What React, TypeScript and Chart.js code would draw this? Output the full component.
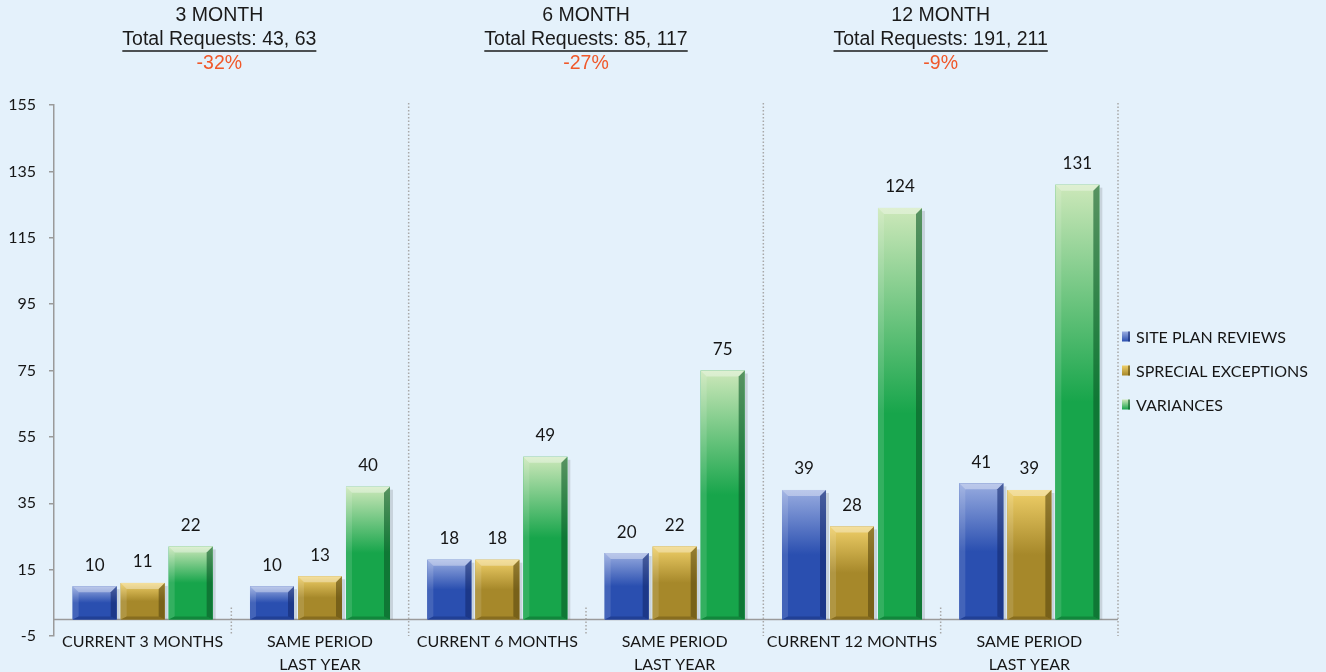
import React, { useEffect, useRef } from "react";
import { Chart, registerables } from "chart.js";

Chart.register(...registerables);

const categories: string[][] = [
  ["CURRENT 3 MONTHS"],
  ["SAME PERIOD", "LAST YEAR"],
  ["CURRENT 6 MONTHS"],
  ["SAME PERIOD", "LAST YEAR"],
  ["CURRENT 12 MONTHS"],
  ["SAME PERIOD", "LAST YEAR"],
];
const seriesNames = ["SITE PLAN REVIEWS", "SPRECIAL EXCEPTIONS", "VARIANCES"];
const sitePlanReviews = [10, 10, 18, 20, 39, 41];
const specialExceptions = [11, 13, 18, 22, 28, 39];
const variances = [22, 40, 49, 75, 124, 131];
const periodTitles = ["3 MONTH", "6 MONTH", "12 MONTH"];
const periodTotals = ["Total Requests: 43, 63", "Total Requests: 85, 117", "Total Requests: 191, 211"];
const periodChanges = ["-32%", "-27%", "-9%"];
const yMin = -5;
const yMax = 155;
const yStep = 20;

const BG = "#e4f1fb";
const palettes = [
  { light: "#98ace0", base: "#2a4fb0", dark: "#142a70" },
  { light: "#efcf68", base: "#a6882a", dark: "#5a470f" },
  { light: "#cde8ba", base: "#17a54b", dark: "#0a5a26" },
];

const W = 1326;
const H = 672;

const decorPlugin = {
  id: "decor",
  beforeDraw(chart: any) {
    const ctx = chart.ctx;
    ctx.save();
    ctx.fillStyle = BG;
    ctx.fillRect(0, 0, chart.width, chart.height);
    ctx.restore();
  },
  beforeDatasetsDraw(chart: any) {
    const { ctx, chartArea, scales } = chart;
    const x = scales.x;
    const y = scales.y;
    const zeroY = y.getPixelForValue(0);
    const catW = x.getPixelForValue(1) - x.getPixelForValue(0);
    ctx.save();
    ctx.strokeStyle = "#9a9a9a";
    ctx.lineWidth = 1.5;
    ctx.beginPath();
    ctx.moveTo(chartArea.left, zeroY);
    ctx.lineTo(chartArea.right, zeroY);
    ctx.stroke();
    ctx.strokeStyle = "#a8a8a8";
    ctx.lineWidth = 1.5;
    ctx.setLineDash([1.5, 2]);
    for (let i = 0; i < categories.length; i++) {
      const bx = x.getPixelForValue(i) + catW / 2;
      ctx.beginPath();
      if (i % 2 === 1) {
        ctx.moveTo(bx, chartArea.top - 2);
        ctx.lineTo(bx, chartArea.bottom);
      } else {
        ctx.moveTo(bx, zeroY - 12);
        ctx.lineTo(bx, zeroY + 14);
      }
      ctx.stroke();
    }
    ctx.restore();
  },
  afterDatasetsDraw(chart: any) {
    const { ctx } = chart;
    chart.data.datasets.forEach((ds: any, di: number) => {
      const meta = chart.getDatasetMeta(di);
      const pal = palettes[di];
      meta.data.forEach((el: any, i: number) => {
        const p = el.getProps(["x", "y", "base", "width"], true);
        const l = p.x - p.width / 2;
        const r = p.x + p.width / 2;
        const t = Math.min(p.y, p.base);
        const b = Math.max(p.y, p.base);
        const h = b - t;
        const bv = Math.min(6, h / 3);
        ctx.save();
        ctx.fillStyle = "rgba(0,0,0,0.12)";
        ctx.fillRect(r, t + 3, 3, h - 3);
        const g = ctx.createLinearGradient(0, t, 0, b);
        g.addColorStop(0, pal.light);
        g.addColorStop(0.5, pal.base);
        g.addColorStop(1, pal.base);
        ctx.fillStyle = g;
        ctx.fillRect(l, t, r - l, h);
        ctx.fillStyle = "rgba(255,255,255,0.35)";
        ctx.beginPath();
        ctx.moveTo(l, t);
        ctx.lineTo(r, t);
        ctx.lineTo(r - bv, t + bv);
        ctx.lineTo(l + bv, t + bv);
        ctx.closePath();
        ctx.fill();
        ctx.fillStyle = "rgba(255,255,255,0.12)";
        ctx.beginPath();
        ctx.moveTo(l, t);
        ctx.lineTo(l + bv, t + bv);
        ctx.lineTo(l + bv, b - bv / 2);
        ctx.lineTo(l, b);
        ctx.closePath();
        ctx.fill();
        ctx.fillStyle = pal.dark;
        ctx.globalAlpha = 0.6;
        ctx.beginPath();
        ctx.moveTo(r, t);
        ctx.lineTo(r, b);
        ctx.lineTo(r - bv, b - bv / 2);
        ctx.lineTo(r - bv, t + bv);
        ctx.closePath();
        ctx.fill();
        ctx.globalAlpha = 0.4;
        ctx.beginPath();
        ctx.moveTo(l, b);
        ctx.lineTo(r, b);
        ctx.lineTo(r - bv, b - bv / 2);
        ctx.lineTo(l + bv, b - bv / 2);
        ctx.closePath();
        ctx.fill();
        ctx.globalAlpha = 1;
        ctx.fillStyle = "#161616";
        ctx.font = "17px Lato";
        ctx.textAlign = "center";
        ctx.textBaseline = "middle";
        ctx.fillText(String(ds.data[i]), p.x, t - 21);
        ctx.restore();
      });
    });
  },
  afterDraw(chart: any) {
    const { ctx, chartArea, scales } = chart;
    const x = scales.x;
    const catW = x.getPixelForValue(1) - x.getPixelForValue(0);
    ctx.save();
    ctx.textAlign = "center";
    ctx.textBaseline = "middle";
    for (let p = 0; p < periodTitles.length; p++) {
      const cx = x.getPixelForValue(p * 2) + catW / 2 - (p === 0 ? 12 : 0);
      ctx.font = "19.5px 'Liberation Sans'";
      ctx.fillStyle = "#1a1a1a";
      ctx.fillText(periodTitles[p], cx, 16);
      ctx.fillText(periodTotals[p], cx, 40);
      const tw = ctx.measureText(periodTotals[p]).width;
      ctx.strokeStyle = "#1a1a1a";
      ctx.lineWidth = 1.4;
      ctx.beginPath();
      ctx.moveTo(cx - tw / 2, 51);
      ctx.lineTo(cx + tw / 2, 51);
      ctx.stroke();
      ctx.fillStyle = "#f0582a";
      ctx.fillText(periodChanges[p], cx, 64);
    }
    const midY = (chartArea.top + chartArea.bottom) / 2;
    const lx = chartArea.right + 4;
    ctx.textAlign = "left";
    ctx.font = "16px Lato";
    seriesNames.forEach((name, i) => {
      const cy = midY + (i - 1) * 34;
      const pal = palettes[i];
      const g = ctx.createLinearGradient(0, cy - 5, 0, cy + 5);
      g.addColorStop(0, pal.light);
      g.addColorStop(1, pal.base);
      ctx.fillStyle = g;
      ctx.fillRect(lx, cy - 5, 8, 10);
      ctx.fillStyle = pal.dark;
      ctx.globalAlpha = 0.6;
      ctx.fillRect(lx + 6, cy - 5, 2, 10);
      ctx.globalAlpha = 1;
      ctx.fillStyle = "#161616";
      ctx.fillText(name, lx + 14, cy + 1);
    });
    ctx.restore();
  },
};

export default function App() {
  const ref = useRef<HTMLCanvasElement>(null);
  useEffect(() => {
    document.body.style.margin = "0";
    document.body.style.background = BG;
    const chart = new Chart(ref.current as HTMLCanvasElement, {
      type: "bar",
      data: {
        labels: categories,
        datasets: [
          { label: seriesNames[0], data: sitePlanReviews, backgroundColor: palettes[0].base, borderWidth: 0 },
          { label: seriesNames[1], data: specialExceptions, backgroundColor: palettes[1].base, borderWidth: 0 },
          { label: seriesNames[2], data: variances, backgroundColor: palettes[2].base, borderWidth: 0 },
        ],
      },
      options: {
        responsive: false,
        devicePixelRatio: 1,
        animation: false,
        layout: { padding: { top: 105, right: 208, left: 0, bottom: 0 } },
        datasets: { bar: { categoryPercentage: 0.812, barPercentage: 0.917 } },
        plugins: { legend: { display: false }, tooltip: { enabled: false } },
        scales: {
          x: {
            grid: { display: false, drawTicks: false },
            border: { display: false },
            ticks: {
              font: { family: "Lato", size: 16, lineHeight: 1.45 },
              color: "#161616",
              padding: -6,
              maxRotation: 0,
              autoSkip: false,
            },
            afterFit(scale: any) {
              scale.height = 36;
            },
          },
          y: {
            min: yMin,
            max: yMax,
            grid: { drawOnChartArea: false, drawTicks: true, tickLength: 5, color: "#9a9a9a", lineWidth: 1.5 },
            border: { color: "#9a9a9a", width: 1.5 },
            ticks: {
              stepSize: yStep,
              font: { family: "Lato", size: 16 },
              color: "#161616",
              padding: 13,
            },
            afterFit(scale: any) {
              scale.width = 54;
            },
          },
        },
      },
      plugins: [decorPlugin],
    });
    return () => chart.destroy();
  }, []);
  return <canvas ref={ref} width={W} height={H} style={{ display: "block" }} />;
}
